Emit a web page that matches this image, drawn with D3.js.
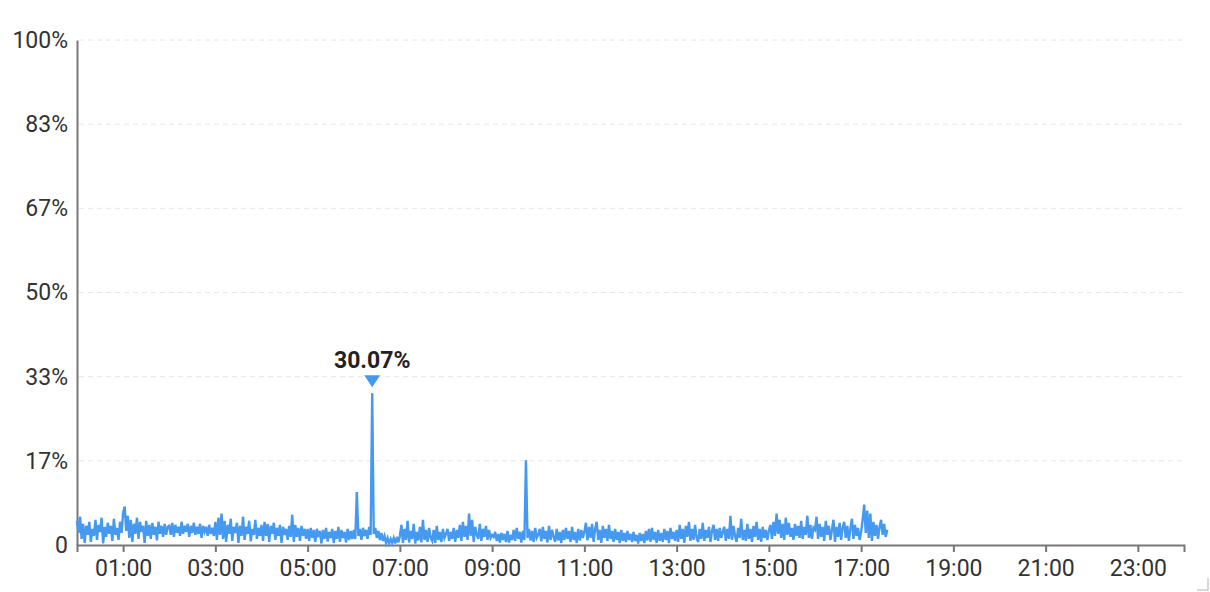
<!DOCTYPE html>
<html><head><meta charset="utf-8">
<script src="https://cdn.jsdelivr.net/npm/d3@7"></script>
<style>
html,body{margin:0;padding:0;background:#fff;}
svg{display:block;font-family:Roboto,"Noto Sans",sans-serif;}
</style></head>
<body>
<svg id="chart" width="1210" height="592"></svg>
<script>
// CPU usage (%) sampled every 2 minutes from 00:00
const startMinute = 0;
const stepMinutes = 2;
const h00 = [4.8,2.4,5.6,1.2,4.2,0.4,3.8,2.0,4.6,0.6,3.2,1.8,5.0,1.0,4.0,2.6,5.4,0.3,3.6,1.6,4.4,2.2,3.8,0.8,5.2,2.0,3.4,1.0,4.6,2.4];
const h01 = [6.4,7.6,2.8,5.8,1.4,5.0,0.6,4.2,2.2,5.4,1.2,4.6,2.6,3.8,0.4,4.8,1.8,4.0,1.2,4.4,2.0,3.6,0.9,4.6,2.2,3.8,1.6,4.2,2.0,3.6];
const h02 = [3.8,2.0,4.4,1.6,4.0,2.4,3.6,1.8,4.6,2.2,3.8,2.6,4.2,1.6,3.8,2.4,4.4,2.0,3.6,2.2,4.2,1.4,3.8,2.6,3.6,1.8,4.0,2.2,3.4,1.8];
const h03 = [4.6,1.0,5.4,2.0,6.2,1.2,4.8,0.6,4.0,2.2,5.2,0.8,3.6,2.4,4.4,0.4,3.8,1.8,5.6,1.0,3.6,2.2,4.8,0.7,3.2,2.0,5.0,1.2,3.4,1.8];
const h04 = [4.0,0.8,4.6,1.8,4.2,0.6,3.8,2.2,4.4,1.0,3.4,1.8,4.0,0.4,3.6,2.0,3.2,1.0,3.8,1.6,6.0,0.6,4.0,1.6,3.4,0.8,3.8,1.8,3.2,1.2];
const h05 = [3.2,0.8,3.4,1.4,3.0,0.6,3.2,1.6,2.8,0.3,3.0,1.2,3.4,0.7,2.6,1.4,3.2,0.4,2.8,1.2,3.6,0.6,3.0,1.4,2.6,0.5,3.2,1.0,2.8,1.2];
const h06 = [3.0,1.2,10.5,1.8,3.2,1.0,3.4,1.8,3.0,1.2,3.6,2.0,30.07,2.2,3.4,1.4,2.8,1.0,2.4,0.8,1.8,0.4,1.4,0.3,1.2,0.4,1.4,0.3,1.6,0.5];
const h07 = [1.8,4.0,0.4,3.2,1.0,4.8,0.5,2.8,1.2,4.2,0.3,2.6,0.9,3.6,0.5,5.0,1.0,3.0,0.6,3.4,1.4,0.8,3.0,0.4,3.8,1.0,2.6,0.6,3.2,1.4];
const h08 = [2.2,3.2,0.8,2.6,1.2,3.4,0.6,3.0,1.4,4.0,0.8,4.6,1.6,3.8,1.0,6.2,1.8,5.0,0.6,3.6,2.0,1.2,4.2,0.8,3.2,1.6,3.8,1.0,3.0,1.4];
const h09 = [2.0,1.6,2.6,0.8,2.2,0.5,2.4,1.0,2.2,0.6,2.8,0.5,2.0,1.0,3.0,0.8,3.4,1.2,2.6,0.5,2.8,1.0,16.8,1.4,3.2,0.9,2.8,0.6,3.4,1.4];
const h10 = [2.0,3.2,0.7,3.6,1.2,2.8,0.5,3.8,1.0,3.0,1.6,0.6,3.2,0.9,2.6,0.4,3.0,1.0,3.4,1.2,2.8,0.6,3.6,1.0,2.6,0.4,3.2,0.9,3.0,1.4];
const h11 = [2.6,4.4,0.9,3.6,1.4,4.2,0.6,3.2,4.6,1.0,3.0,0.4,3.8,1.4,3.2,0.8,4.0,1.2,2.8,0.6,3.2,1.0,2.6,0.4,3.0,0.8,2.4,0.6,2.8,1.0];
const h12 = [2.2,0.6,2.6,0.8,2.0,0.3,2.4,0.8,2.2,0.4,2.8,0.9,3.2,0.6,3.4,1.0,2.6,0.4,3.0,0.8,2.4,0.6,3.2,1.0,2.8,0.4,3.4,1.2,2.6,0.8];
const h13 = [3.0,0.6,4.0,1.2,3.2,0.4,3.8,1.6,4.6,0.8,3.2,1.0,4.0,1.4,0.6,3.2,1.2,4.4,0.8,3.0,1.4,3.6,0.6,2.8,4.0,1.0,3.2,0.8,3.4,1.4];
const h14 = [2.6,3.6,0.8,3.2,1.2,5.8,1.0,3.8,1.8,0.6,3.4,1.4,5.2,1.0,3.0,0.8,4.2,1.2,3.2,0.6,3.8,1.6,4.6,1.0,3.2,0.6,3.6,1.4,3.0,1.0];
const h15 = [2.8,4.0,1.2,4.6,1.8,6.2,2.2,5.0,1.4,4.2,1.0,5.4,2.0,4.4,1.6,3.4,1.0,4.2,1.8,3.8,1.4,4.8,1.2,3.6,2.0,5.8,1.4,4.0,1.2,3.4];
const h16 = [3.0,5.6,1.2,4.2,1.6,3.6,0.8,4.8,2.0,3.8,1.0,3.0,5.0,0.6,3.6,1.6,4.4,1.0,3.4,4.6,1.4,3.8,0.8,3.2,5.2,1.2,4.0,1.8,3.4,1.0];
const h17 = [2.6,5.0,8.0,2.4,6.8,1.4,6.2,0.8,4.6,1.8,4.0,1.2,3.6,5.0,2.0,4.2,1.6,3.0];
const values = [].concat(h00,h01,h02,h03,h04,h05,h06,h07,h08,h09,h10,h11,h12,h13,h14,h15,h16,h17);

const xTickHours = [1,3,5,7,9,11,13,15,17,19,21,23];
const xTickLabels = ["01:00","03:00","05:00","07:00","09:00","11:00","13:00","15:00","17:00","19:00","21:00","23:00"];
const yTickValues = [0,100/6,200/6,50,400/6,500/6,100];
const yTickLabels = ["0","17%","33%","50%","67%","83%","100%"];
const peakLabel = "30.07%";

const color = "#4599f0";
const margin = {left:77, right:26, top:40, bottom:47};
const W = 1210, H = 592;
const FONT = "Roboto, 'Noto Sans', sans-serif";
const svg = d3.select("#chart");

const x = d3.scaleLinear().domain([0, 24*60]).range([margin.left, W - margin.right]);
const y = d3.scaleLinear().domain([0, 100]).range([H - margin.bottom, margin.top]);

// grid
svg.append("g").selectAll("line").data(yTickValues.slice(1)).join("line")
  .attr("x1", margin.left + 2).attr("x2", W - margin.right)
  .attr("y1", d => y(d)).attr("y2", d => y(d))
  .attr("stroke", "#e6e6e6").attr("stroke-width", 1).attr("stroke-dasharray", "5,4");

// y labels
const yAxis = d3.axisLeft(y).tickValues(yTickValues)
  .tickFormat((d,i) => yTickLabels[i]).tickSize(0).tickPadding(9);
const gy = svg.append("g").attr("transform", `translate(${margin.left},0)`).call(yAxis);
gy.select(".domain").attr("stroke", "#777").attr("stroke-width", 2);
gy.selectAll("text").attr("font-size", 23).attr("fill", "#333").attr("font-family", FONT);

// x axis
const xAxis = d3.axisBottom(x).tickValues(xTickHours.map(h => h*60))
  .tickFormat((d,i) => xTickLabels[i]).tickSizeOuter(0).tickSize(7).tickPadding(8);
const gx = svg.append("g").attr("transform", `translate(0,${y(0)})`).call(xAxis);
gx.select(".domain").attr("stroke", "#777").attr("stroke-width", 2);
gx.selectAll(".tick line").attr("stroke", "#777").attr("stroke-width", 2);
gx.selectAll("text").attr("font-size", 23).attr("fill", "#333").attr("font-family", FONT);

// line
const line = d3.line()
  .x((d,i) => x(startMinute + i*stepMinutes))
  .y(d => y(d));
svg.append("path").datum(values)
  .attr("d", line).attr("fill", "none")
  .attr("stroke", color).attr("stroke-width", 2.4).attr("stroke-linejoin", "miter");

// peak marker
const pi = values.indexOf(d3.max(values));
const px = x(startMinute + pi*stepMinutes), py = y(values[pi]);
svg.append("path")
  .attr("d", `M${px-8},${py-18} L${px+8},${py-18} L${px},${py-6} Z`)
  .attr("fill", color);
svg.append("text").attr("x", px).attr("y", py-25)
  .attr("text-anchor", "middle").attr("font-size", 23).attr("font-weight", "bold")
  .attr("fill", "#222").attr("font-family", FONT).text(peakLabel);

// resize corner
svg.append("path").attr("d", "M1197,590 L1208,590 L1208,578")
  .attr("fill", "none").attr("stroke", "#ccc").attr("stroke-width", 1.5);
</script>
</body></html>
